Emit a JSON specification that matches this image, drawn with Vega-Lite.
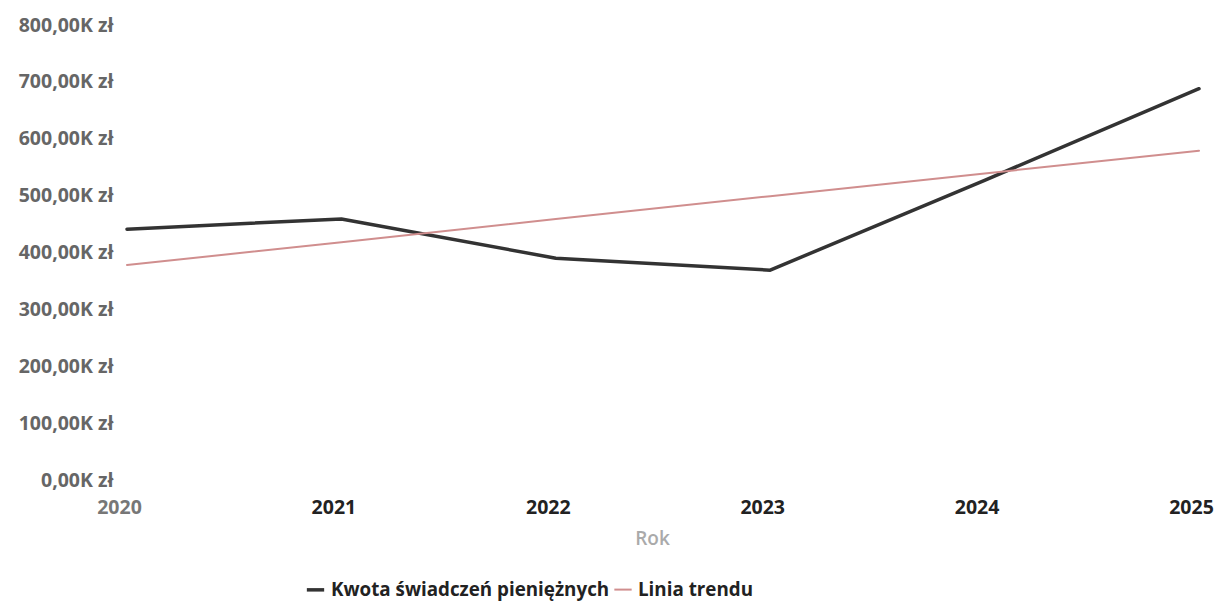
{
  "$schema": "https://vega.github.io/schema/vega-lite/v6.json",
  "width": 1072,
  "height": 455,
  "autosize": {"type": "none"},
  "padding": {"left": 127, "top": 25, "right": 17, "bottom": 123},
  "background": "white",
  "config": {
    "view": {"stroke": null},
    "font": "Open Sans"
  },
  "data": {
    "values": [
      {"Rok": "2020", "Seria": "Kwota świadczeń pieniężnych", "Kwota": 441000},
      {"Rok": "2021", "Seria": "Kwota świadczeń pieniężnych", "Kwota": 459000},
      {"Rok": "2022", "Seria": "Kwota świadczeń pieniężnych", "Kwota": 390000},
      {"Rok": "2023", "Seria": "Kwota świadczeń pieniężnych", "Kwota": 369000},
      {"Rok": "2024", "Seria": "Kwota świadczeń pieniężnych", "Kwota": 527000},
      {"Rok": "2025", "Seria": "Kwota świadczeń pieniężnych", "Kwota": 688000},
      {"Rok": "2020", "Seria": "Linia trendu", "Kwota": 378000},
      {"Rok": "2021", "Seria": "Linia trendu", "Kwota": 418000},
      {"Rok": "2022", "Seria": "Linia trendu", "Kwota": 459000},
      {"Rok": "2023", "Seria": "Linia trendu", "Kwota": 499000},
      {"Rok": "2024", "Seria": "Linia trendu", "Kwota": 539000},
      {"Rok": "2025", "Seria": "Linia trendu", "Kwota": 579000}
    ]
  },
  "mark": {"type": "line", "strokeCap": "round", "strokeJoin": "round"},
  "encoding": {
    "x": {
      "field": "Rok",
      "type": "ordinal",
      "scale": {"type": "point", "padding": 0},
      "axis": {
        "title": "Rok",
        "labelAngle": 0,
        "labelFont": "Open Sans",
        "labelFontSize": 19.5,
        "labelFontWeight": 700,
        "labelColor": {"condition": {"test": "datum.label == '2020'", "value": "#777777"}, "value": "#222222"},
        "labelPadding": 18,
        "labelOffset": -8,
        "labelOverlap": false,
        "labelBound": false,
        "domain": false,
        "ticks": false,
        "grid": false,
        "titleFont": "Open Sans",
        "titleFontSize": 19,
        "titleFontWeight": 600,
        "titleColor": "#aaaaaa",
        "titlePadding": 13,
        "titleX": 525
      }
    },
    "y": {
      "field": "Kwota",
      "type": "quantitative",
      "scale": {"domain": [0, 800000]},
      "axis": {
        "title": null,
        "values": [0, 100000, 200000, 300000, 400000, 500000, 600000, 700000, 800000],
        "labelExpr": "replace(format(datum.value/1000, '.2f'), '.', ',') + 'K zł'",
        "labelFont": "Open Sans",
        "labelFontSize": 19.5,
        "labelFontWeight": 700,
        "labelColor": "#666666",
        "labelPadding": 14,
        "labelOverlap": false,
        "labelBound": false,
        "domain": false,
        "ticks": false,
        "grid": false
      }
    },
    "color": {
      "field": "Seria",
      "type": "nominal",
      "scale": {
        "domain": ["Kwota świadczeń pieniężnych", "Linia trendu"],
        "range": ["#333333", "#d08e8e"]
      },
      "legend": {
        "title": null,
        "orient": "none",
        "legendX": 178,
        "legendY": 554,
        "direction": "horizontal",
        "symbolType": "stroke",
        "symbolStrokeWidth": 5,
        "symbolSize": 300,
        "labelFont": "Open Sans",
        "labelFontSize": 18.8,
        "labelFontWeight": 700,
        "labelColor": "#222222",
        "labelLimit": 0,
        "columnPadding": 0,
        "labelOffset": 5
      }
    },
    "strokeWidth": {
      "field": "Seria",
      "type": "nominal",
      "scale": {
        "domain": ["Kwota świadczeń pieniężnych", "Linia trendu"],
        "range": [3.5, 2]
      },
      "legend": null
    }
  }
}
